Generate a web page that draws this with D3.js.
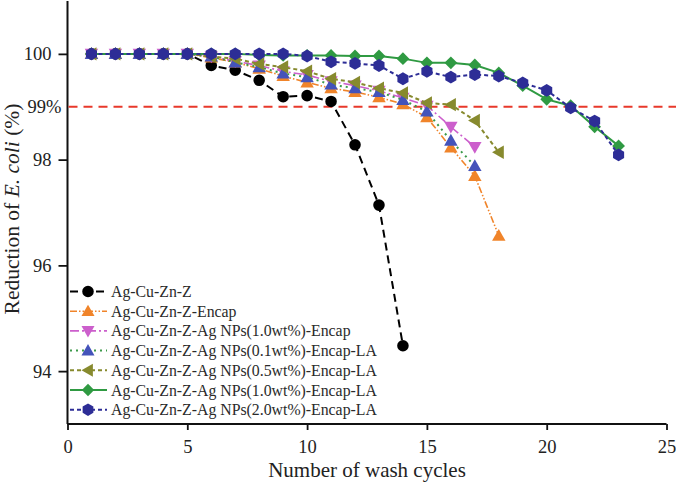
<!DOCTYPE html>
<html>
<head>
<meta charset="utf-8">
<script src="https://cdn.jsdelivr.net/npm/d3@7"></script>
<style>
  body { margin: 0; background: #fff; }
  text { font-family: "Liberation Serif", "Times New Roman", serif; }
</style>
</head>
<body>
<div id="chart"></div>
<script>
// wash cycles
var cycles = d3.range(1, 24);

// reduction of E. coli (%) per series
var agCuZnZ = [100, 100, 100, 100, 100, 99.78, 99.69, 99.50, 99.19, 99.21, 99.10, 98.28, 97.14, 94.48];
var encap = [100, 100, 100, 100, 100, 99.93, 99.84, 99.72, 99.58, 99.46, 99.35, 99.28, 99.18, 99.05, 98.80, 98.23, 97.69, 96.56];
var np10Encap = [100, 100, 100, 100, 100, 99.95, 99.86, 99.78, 99.67, 99.60, 99.48, 99.40, 99.30, 99.17, 99.02, 98.62, 98.24];
var np01LA = [100, 100, 100, 100, 100, 99.95, 99.84, 99.75, 99.63, 99.56, 99.42, 99.35, 99.28, 99.13, 98.91, 98.36, 97.88];
var np05LA = [100, 100, 100, 100, 100, 99.95, 99.91, 99.81, 99.75, 99.67, 99.53, 99.46, 99.35, 99.26, 99.07, 99.04, 98.74, 98.14];
var np10LA = [100, 100, 100, 100, 100, 100, 100, 99.98, 99.97, 99.97, 99.97, 99.96, 99.96, 99.91, 99.83, 99.83, 99.79, 99.64, 99.40, 99.14, 99.02, 98.62, 98.26];
var np20LA = [100, 100, 100, 100, 100, 100, 100, 100, 100, 99.96, 99.85, 99.82, 99.78, 99.53, 99.67, 99.56, 99.61, 99.58, 99.45, 99.31, 98.98, 98.73, 98.09];

var xTicks = [0, 5, 10, 15, 20, 25];
var yTicks = [94, 96, 98, 100];
var refValue = 99;
var refLabel = "99%";

var series = [
  {name: "Ag-Cu-Zn-Z", values: agCuZnZ, color: "#000000", dash: "8,5", width: 2, symbol: "circle"},
  {name: "Ag-Cu-Zn-Z-Encap", values: encap, color: "#F0842A", dash: "7,2,1.5,2,1.5,2", width: 1.6, symbol: "triUp"},
  {name: "Ag-Cu-Zn-Z-Ag NPs(1.0wt%)-Encap", values: np10Encap, color: "#CC5FCC", dash: "9,3,2,3", width: 1.6, symbol: "triDown"},
  {name: "Ag-Cu-Zn-Z-Ag NPs(0.1wt%)-Encap-LA", values: np01LA, color: "#4453BA", dash: "2,4", width: 2, symbol: "triUp", lineColor: "#3C9A4A"},
  {name: "Ag-Cu-Zn-Z-Ag NPs(0.5wt%)-Encap-LA", values: np05LA, color: "#878A2E", dash: "4,3", width: 2, symbol: "triLeft"},
  {name: "Ag-Cu-Zn-Z-Ag NPs(1.0wt%)-Encap-LA", values: np10LA, color: "#2F9A42", dash: null, width: 2, symbol: "diamond"},
  {name: "Ag-Cu-Zn-Z-Ag NPs(2.0wt%)-Encap-LA", values: np20LA, color: "#2D2D96", dash: "4,3", width: 2, symbol: "hexagon"}
];

var W = 676, H = 487;
var svg = d3.select("#chart").append("svg")
  .attr("width", W)
  .attr("height", H);

var x = d3.scaleLinear().domain([0, 25]).range([67.5, 666.5]);
var y = d3.scaleLinear().domain([93, 101]).range([424, 1]);

// marker shapes
function markerPath(type, s) {
  if (type === "circle") return d3.symbol(d3.symbolCircle, 105)();
  if (type === "diamond") return "M0," + (-s) + "L" + s + ",0L0," + s + "L" + (-s) + ",0Z";
  if (type === "hexagon") {
    var p = d3.range(6).map(function(i) {
      var a = Math.PI / 6 + i * Math.PI / 3;
      return [s * Math.cos(a), s * Math.sin(a)];
    });
    return "M" + p.join("L") + "Z";
  }
  var h = s * 1.05;
  if (type === "triUp") return "M0," + (-h) + "L" + h + "," + (h * 0.75) + "L" + (-h) + "," + (h * 0.75) + "Z";
  if (type === "triDown") return "M0," + h + "L" + h + "," + (-h * 0.75) + "L" + (-h) + "," + (-h * 0.75) + "Z";
  if (type === "triLeft") return "M" + (-h) + ",0L" + (h * 0.75) + "," + (-h) + "L" + (h * 0.75) + "," + h + "Z";
}

// axes
var yAxis = svg.append("g")
  .attr("transform", "translate(" + x(0) + ",0)")
  .call(d3.axisLeft(y).tickValues(yTicks).tickSize(9).tickPadding(7).tickFormat(d3.format("d")));
var xAxis = svg.append("g")
  .attr("transform", "translate(0," + y(93) + ")")
  .call(d3.axisBottom(x).tickValues(xTicks).tickSize(6).tickPadding(10).tickFormat(d3.format("d")));

[xAxis, yAxis].forEach(function(ax) {
  ax.select(".domain").attr("stroke", "#111").attr("stroke-width", 2);
  ax.selectAll(".tick line").attr("stroke", "#111").attr("stroke-width", 1.8);
  ax.selectAll(".tick text").attr("fill", "#222").style("font-size", "18.5px").style("font-family", "Liberation Serif");
});
yAxis.select(".domain").attr("d", "M0," + y(93) + "V" + y(101));
xAxis.select(".domain").attr("d", "M" + x(0) + ",0H" + x(25));

// 99% reference line
svg.append("line")
  .attr("x1", x(0) + 1).attr("x2", W)
  .attr("y1", y(refValue)).attr("y2", y(refValue))
  .attr("stroke", "#E8392B")
  .attr("stroke-width", 2)
  .attr("stroke-dasharray", "9,6");
svg.append("text")
  .attr("x", x(0) - 6)
  .attr("y", y(refValue))
  .attr("dy", "0.32em")
  .attr("text-anchor", "end")
  .attr("fill", "#222")
  .style("font-size", "18.5px")
  .text(refLabel);

// series
var line = d3.line()
  .x(function(d, i) { return x(cycles[i]); })
  .y(function(d) { return y(d); });

series.forEach(function(s) {
  var g = svg.append("g");
  g.append("path")
    .attr("d", line(s.values))
    .attr("fill", "none")
    .attr("stroke", s.lineColor || s.color)
    .attr("stroke-width", s.width)
    .attr("stroke-dasharray", s.dash);
  g.selectAll("path.pt")
    .data(s.values)
    .enter()
    .append("path")
      .attr("class", "pt")
      .attr("transform", function(d, i) { return "translate(" + x(cycles[i]) + "," + y(d) + ")"; })
      .attr("d", markerPath(s.symbol, 6.4))
      .attr("fill", s.color);
});

// legend
var legend = svg.append("g");
series.forEach(function(s, i) {
  var ly = 291.5 + i * 19.7;
  legend.append("line")
    .attr("x1", 70).attr("x2", 107)
    .attr("y1", ly).attr("y2", ly)
    .attr("stroke", s.lineColor || s.color)
    .attr("stroke-width", s.width)
    .attr("stroke-dasharray", s.dash);
  legend.append("path")
    .attr("transform", "translate(88," + ly + ")")
    .attr("d", markerPath(s.symbol, 6.2))
    .attr("fill", s.color);
  legend.append("text")
    .attr("x", 111)
    .attr("y", ly)
    .attr("dy", "0.35em")
    .attr("fill", "#2a2a2a")
    .style("font-size", "15.8px")
    .text(s.name);
});

// axis titles
svg.append("text")
  .attr("x", x(12.5))
  .attr("y", 477)
  .attr("text-anchor", "middle")
  .attr("fill", "#222")
  .style("font-size", "21px")
  .text("Number of wash cycles");

var yTitle = svg.append("text")
  .attr("transform", "translate(19,209) rotate(-90)")
  .attr("text-anchor", "middle")
  .attr("fill", "#222")
  .style("font-size", "21.5px");
yTitle.append("tspan").text("Reduction of ");
yTitle.append("tspan").style("font-style", "italic").text("E. coli");
yTitle.append("tspan").text(" (%)");
</script>
</body>
</html>
